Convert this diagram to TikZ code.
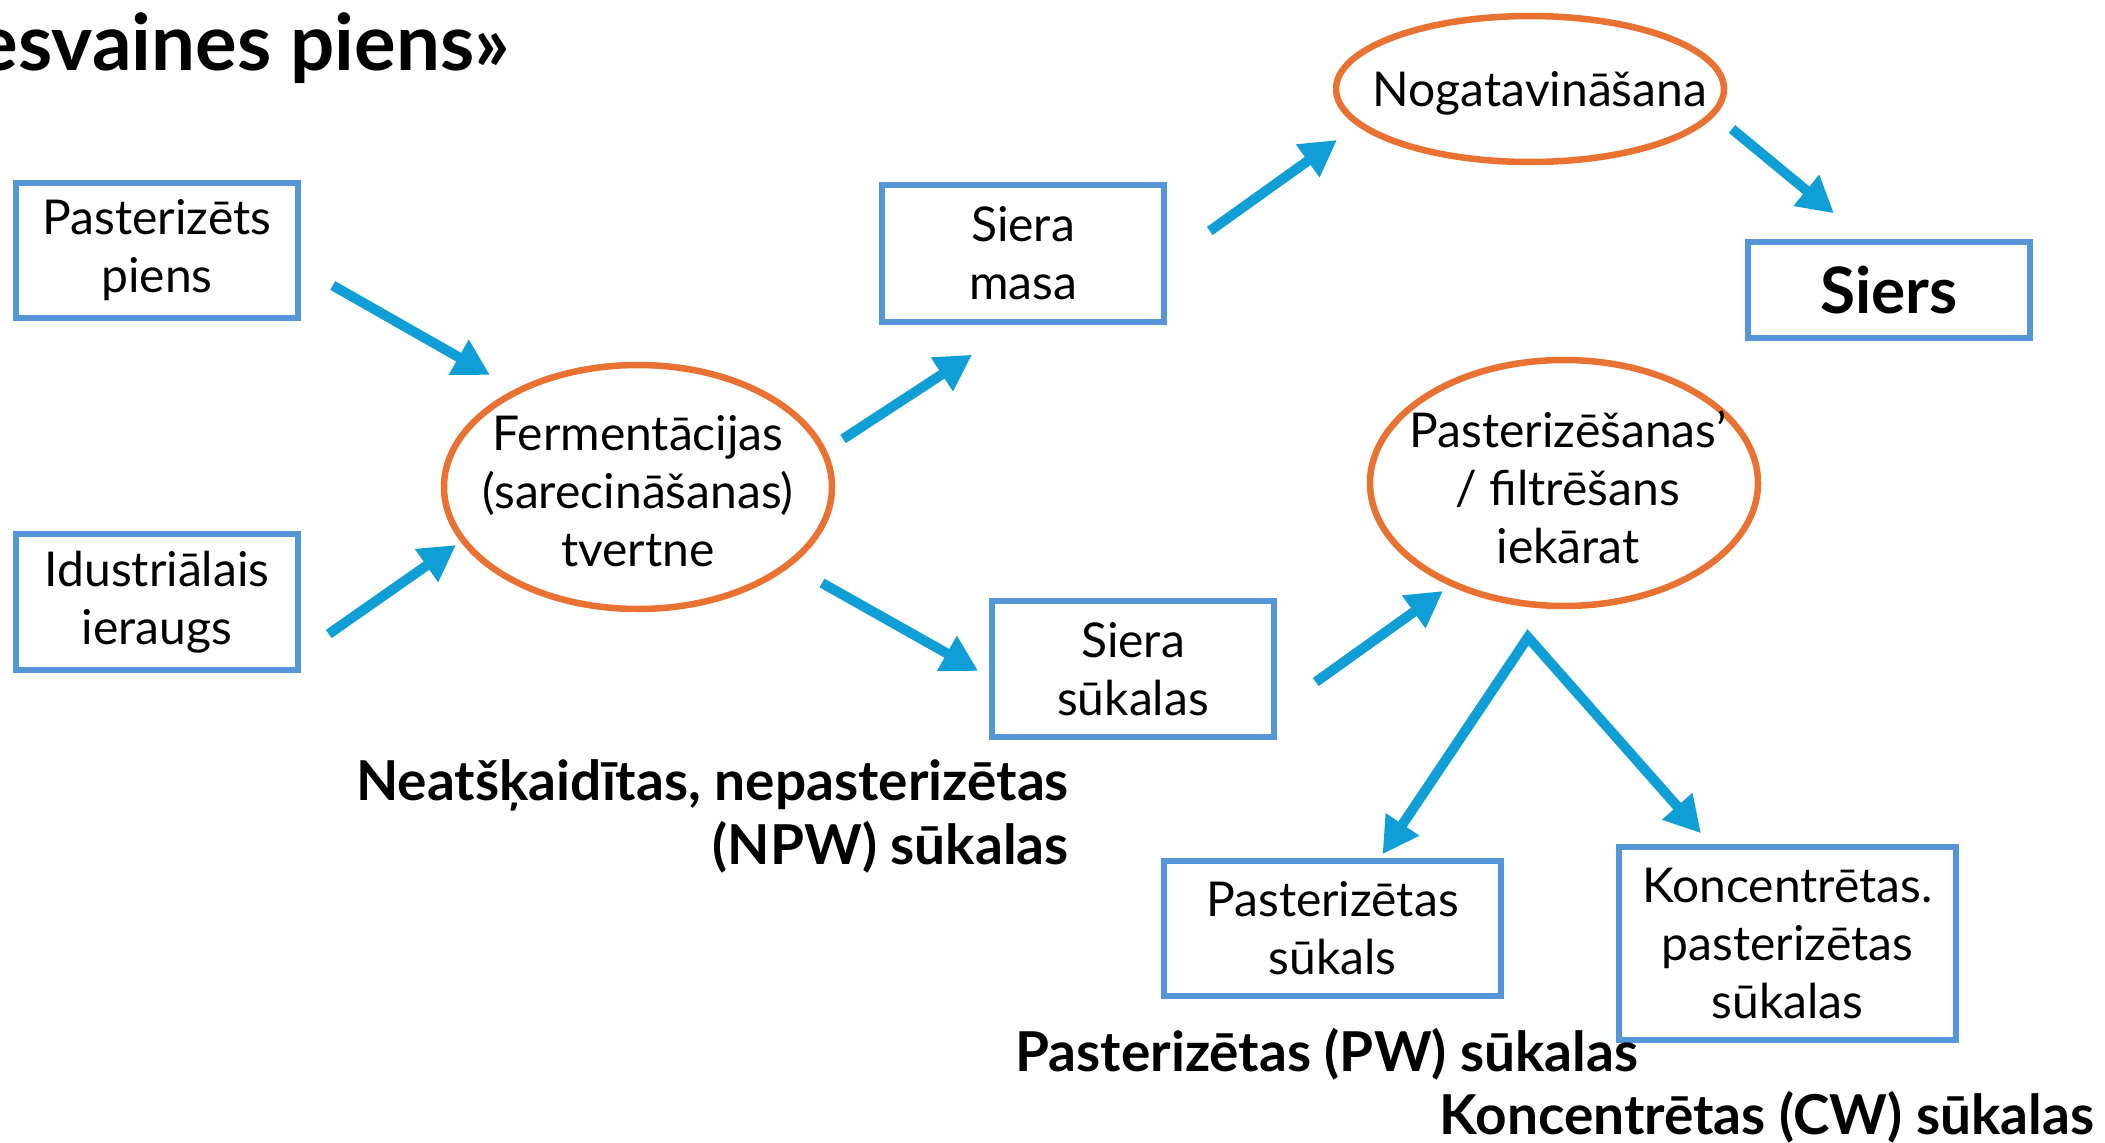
\documentclass[tikz,border=0pt]{standalone}
\usepackage{fontspec}
\setmainfont{Lato}
\usetikzlibrary{shapes.geometric,arrows.meta,calc}
\definecolor{arrblue}{HTML}{109ED6}
\definecolor{boxblue}{HTML}{5596D8}
\definecolor{ellor}{HTML}{E97132}
\begin{document}
\begin{tikzpicture}[x=1pt,y=-1pt,
  box/.style={draw=boxblue,line width=5.5pt,align=center,inner sep=0pt,
    font=\fontsize{48}{58}\selectfont},
  oval/.style={ellipse,draw=ellor,line width=6.5pt,inner sep=0pt},
  ovaltext/.style={inner sep=0pt,align=center,font=\fontsize{48}{58}\selectfont},
  lbl/.style={inner sep=0pt,font=\bfseries\fontsize{55}{64}\selectfont},
  arr/.style={draw=arrblue,line width=10pt,-{Triangle[length=36pt,width=38pt]},arrblue}
]
\useasboundingbox (0,0) rectangle (2105,1143);
\fill[white] (0,0) rectangle (2105,1143);

\node[anchor=base east,inner sep=0pt,font=\bfseries\fontsize{78}{90}\selectfont] (title) at (510,70) {esvaines piens»};

\node[box,minimum width=282pt,minimum height=135pt] (pp) at (157,250.5) {Pasterizēts\\piens};
\node[box,minimum width=282pt,minimum height=136pt] (ii) at (157,602) {Idustriālais\\ieraugs};
\node[box,minimum width=282pt,minimum height=137pt] (sm) at (1023,253.5) {Siera\\masa};
\node[box,minimum width=282pt,minimum height=96pt,font=\bfseries\fontsize{64}{70}\selectfont] (siers) at (1889,290) {Siers};
\node[box,minimum width=282pt,minimum height=136pt] (ss) at (1133,669) {Siera\\sūkalas};
\node[box,minimum width=337pt,minimum height=135pt] (ps) at (1332.5,928.5) {Pasterizētas\\sūkals};
\node[box,minimum width=337pt,minimum height=193pt] (ks) at (1787.5,943.5) {Koncentrētas.\\pasterizētas\\sūkalas};

\node[oval,minimum width=388pt,minimum height=244pt] (ferm) at (638,487) {};
\node[ovaltext] (fermt) at (638,491) {Fermentācijas\\(sarecināšanas)\\tvertne};
\node[oval,minimum width=388pt,minimum height=146pt] (nog) at (1530,89) {};
\node[ovaltext] (nogt) at (1540,93) {Nogatavināšana};
\node[oval,minimum width=388pt,minimum height=246pt] (past) at (1564,483) {};
\node[ovaltext] (pastt) at (1568,487) {Pasterizēšanas’\\/ filtrēšans\\iekārat};

\node[lbl,align=right,anchor=east] (npw) at (1069,816) {Neatšķaidītas, nepasterizētas\\(NPW) sūkalas};
\node[lbl] (pw) at (1327,1054) {Pasterizētas (PW) sūkalas};
\node[lbl] (cw) at (1767,1117) {Koncentrētas (CW) sūkalas};

\draw[arr] ($(pp.east)+(32,35)$) -- ($(ferm.center)+(-148,-112)$);
\draw[arr] ($(ii.east)+(28,32)$) -- ($(ferm.center)+(-182,58)$);
\draw[arr] ($(ferm.center)+(205,-48)$) -- ($(sm.south)+(-51,30)$);
\draw[arr] ($(ferm.center)+(184,96)$) -- ($(ss.west)+(-11,2)$);
\draw[arr] ($(sm.east)+(43,-22.5)$) -- ($(nog.center)+(-193,51)$);
\draw[arr] ($(nog.center)+(202,40)$) -- ($(siers.north)+(-55,-26)$);
\draw[arr] ($(ss.east)+(39,13)$) -- ($(past.center)+(-121,108)$);
\coordinate (fork) at ($(past.south)+(-36,28)$);
\draw[arr,{Triangle[length=36pt,width=38pt]}-{Triangle[length=36pt,width=38pt]},line join=miter]
  ($(ps.north)+(50,-4)$) -- (fork) -- ($(ks.north)+(-86.5,-11)$);
\end{tikzpicture}
\end{document}
